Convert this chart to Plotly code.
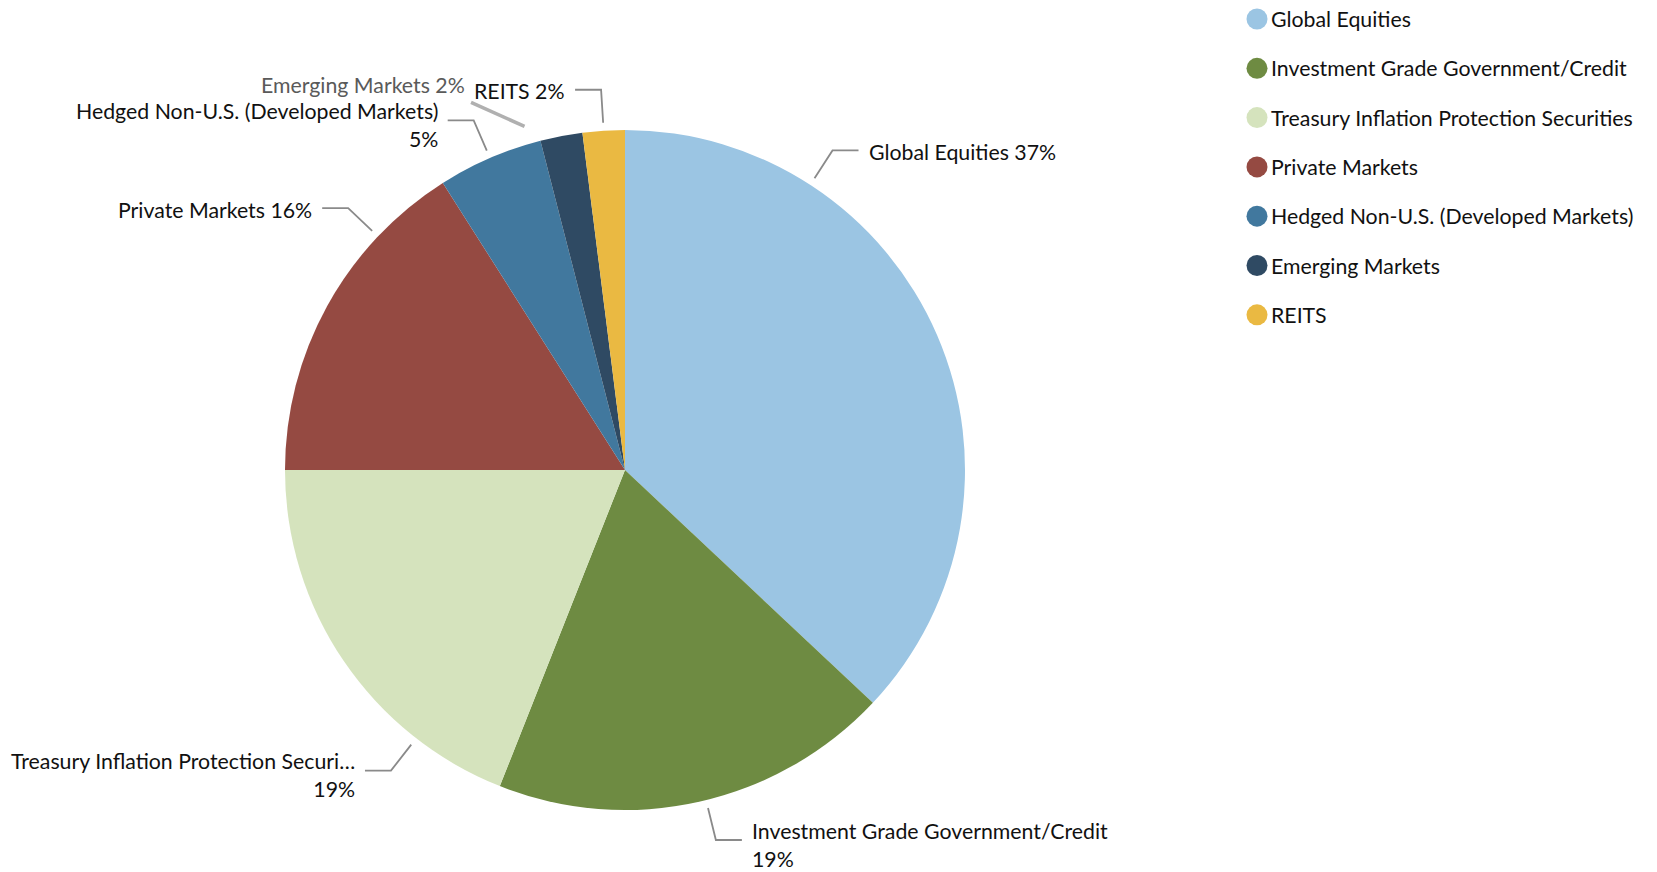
import math
import plotly.graph_objects as go

# ---------------- data ----------------
names = [
    "Global Equities",
    "Investment Grade Government/Credit",
    "Treasury Inflation Protection Securities",
    "Private Markets",
    "Hedged Non-U.S. (Developed Markets)",
    "Emerging Markets",
    "REITS",
]
values = [37, 19, 19, 16, 5, 2, 2]
colors = ["#9BC5E3", "#6E8B42", "#D5E3BD", "#954A42", "#41789E", "#2F4A63", "#EAB942"]

# ---------------- layout constants ----------------
W, H = 1657, 872
CX, CY, R = 625, 470, 340
FONT = "Lato"
FS = 21.3
TEXT_COLOR = "#111111"
LINE_COLOR = "#8a8a8a"
LEN1, LEN2, GAP = 33, 26, 8
TEXT_DY = 1.5
TEXT_DY_2LINE = 4.5
MAX_CHARS = 36
# anchor angle overrides (deg, clockwise from 12 o'clock) where labels were moved
ANGLE_OVERRIDE = {
    "Global Equities": 33.0,
    "Investment Grade Government/Credit": 166.2,
    "Treasury Inflation Protection Securities": 217.9,
    "Private Markets": 313.4,
}
SPECIAL = {"Emerging Markets": dict(angle=343.7, r=R + 18, dx=-53.5, dy=-24)}

LEG_X, LEG_Y0, LEG_DY = 1257, 19, 49.3


def polar(theta, rho):
    t = math.radians(theta)
    return CX + rho * math.sin(t), CY - rho * math.cos(t)


fig = go.Figure()
fig.add_trace(go.Pie(
    labels=names, values=values, sort=False, direction="clockwise", rotation=0,
    marker=dict(colors=colors, line=dict(width=0)),
    textinfo="none", showlegend=False,
    domain=dict(x=[(CX - R) / W, (CX + R) / W], y=[1 - (CY + R) / H, 1 - (CY - R) / H]),
    hovertemplate="%{label}: %{value}%<extra></extra>",
))

total = sum(values)
cum = 0
lx, ly = [], []
annotations = []
for name, v in zip(names, values):
    mid = 360 * (cum + v / 2) / total
    cum += v
    pct = f"{round(100 * v / total)}%"
    label_name = name if len(name) <= MAX_CHARS else name[:MAX_CHARS] + "…"
    if name in SPECIAL:
        s = SPECIAL[name]
        x0, y0 = polar(s["angle"], s["r"])
        x1, y1 = x0 + s["dx"], y0 + s["dy"]
        fig.add_trace(go.Scatter(x=[x0, x1], y=[y0, y1], mode="lines",
                                 line=dict(color="#b0b0b0", width=3.5),
                                 hoverinfo="skip", showlegend=False))
        annotations.append(dict(x=x1 - 4, y=y1 - 17, xref="x", yref="y", text=f"{label_name} {pct}",
                                showarrow=False, xanchor="right", yanchor="middle",
                                font=dict(family=FONT, size=FS, color="#5a5a5a")))
        continue
    theta = ANGLE_OVERRIDE.get(name, mid)
    x0, y0 = polar(theta, R + 8)
    x1, y1 = polar(theta, R + 8 + LEN1)
    right = (theta % 360) < 180
    x2 = x1 + (LEN2 if right else -LEN2)
    lx += [x0, x1, x2, None]
    ly += [y0, y1, y1, None]
    two_line = len(name) > 20
    text = f"{label_name}<br>{pct}" if two_line else f"{label_name} {pct}"
    annotations.append(dict(
        x=x2 + (GAP if right else -GAP), y=y1 + (TEXT_DY_2LINE if two_line else TEXT_DY),
        xref="x", yref="y", text=text,
        showarrow=False, xanchor="left" if right else "right", yanchor="middle",
        align="left" if right else "right",
        font=dict(family=FONT, size=FS, color=TEXT_COLOR)))

fig.add_trace(go.Scatter(x=lx, y=ly, mode="lines", line=dict(color=LINE_COLOR, width=1.8),
                         hoverinfo="skip", showlegend=False))

# legend (circle markers)
leg_y = [LEG_Y0 + i * LEG_DY for i in range(len(names))]
fig.add_trace(go.Scatter(x=[LEG_X] * len(names), y=leg_y, mode="markers",
                         marker=dict(symbol="circle", size=21, color=colors, line=dict(width=0)),
                         hoverinfo="skip", showlegend=False))
for name, y in zip(names, leg_y):
    annotations.append(dict(x=LEG_X + 12, y=y, xref="x", yref="y", text=name, showarrow=False,
                            xanchor="left", yanchor="middle",
                            font=dict(family=FONT, size=FS, color=TEXT_COLOR)))

fig.update_layout(
    width=W, height=H, margin=dict(l=0, r=0, t=0, b=0),
    paper_bgcolor="white", plot_bgcolor="rgba(0,0,0,0)",
    xaxis=dict(range=[0, W], visible=False, fixedrange=True, domain=[0, 1]),
    yaxis=dict(range=[H, 0], visible=False, fixedrange=True, domain=[0, 1]),
    annotations=annotations, showlegend=False,
    font=dict(family=FONT),
)

fig.write_html("out.html", config={"displayModeBar": False})
